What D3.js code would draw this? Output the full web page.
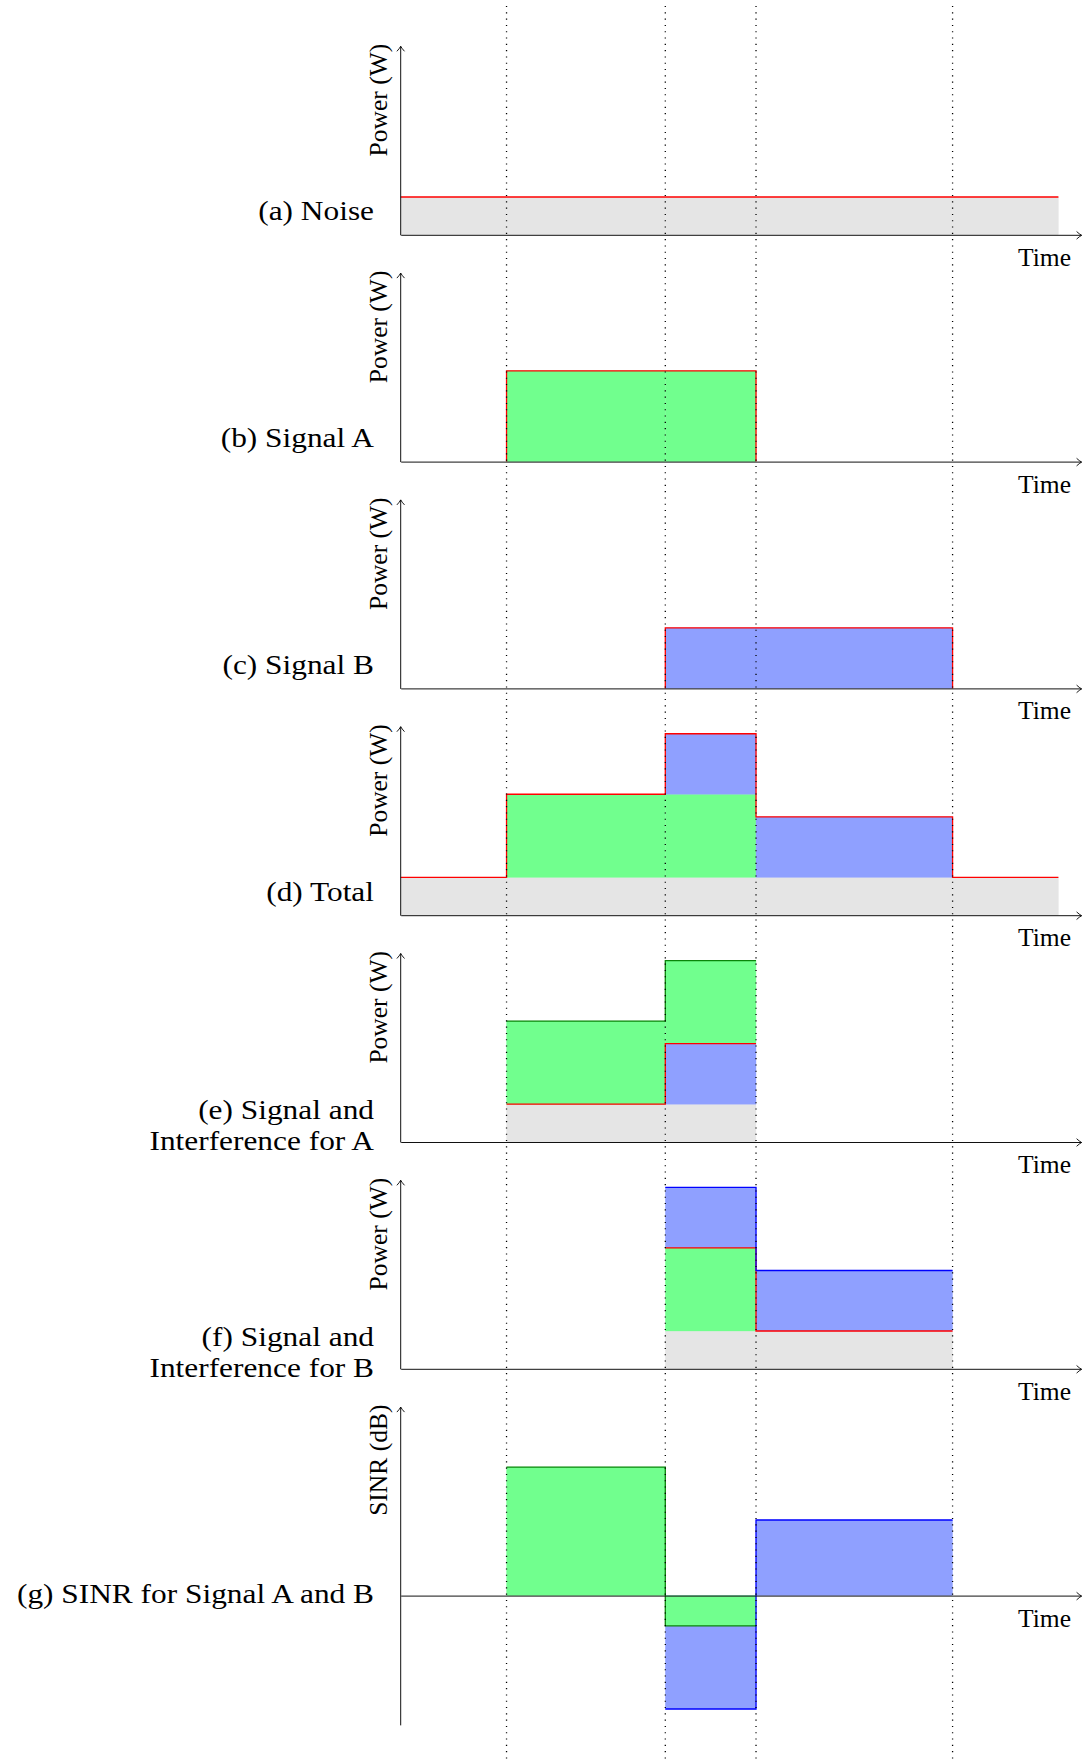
<!DOCTYPE html>
<html><head><meta charset="utf-8">
<script src="https://cdn.jsdelivr.net/npm/d3@7"></script>
<style>
html,body{margin:0;padding:0;background:#fff;}
svg{display:block;}
text{font-family:"Liberation Serif","Times New Roman",serif;fill:#000;}
</style></head><body>
<svg id="chart" width="1082" height="1760"></svg>
<script>
// ---------------- data ----------------
const timeEdges  = [0, 2.8, 7, 9.4, 14.6, 17.4];   // segment boundaries
const eventTimes = [2.8, 7, 9.4, 14.6];             // dotted guide lines
const timeAxisMax  = 18;
const powerAxisMax = 5;
const sinrAxisMin  = -3.42;

const panelLabels = [
  ["(a) Noise"],
  ["(b) Signal A"],
  ["(c) Signal B"],
  ["(d) Total"],
  ["(e) Signal and", "Interference for A"],
  ["(f) Signal and", "Interference for B"],
  ["(g) SINR for Signal A and B"]
];
const yAxisTitles = ["Power (W)", "Power (W)", "Power (W)", "Power (W)", "Power (W)", "Power (W)", "SINR (dB)"];
const xAxisTitle = "Time";

// levels per time segment (null = nothing in that segment)
const noise        = [1.0, 1.0, 1.0, 1.0, 1.0];
const signalAOnly  = [null, 2.4, 2.4, null, null];
const signalBOnly  = [null, null, 1.6, 1.6, null];
const totalNoise   = [1.0, 1.0, 1.0, 1.0, 1.0];
const totalA       = [null, 2.2, 2.2, null, null];
const totalB       = [null, null, 1.6, 1.6, null];
const noiseForA    = [null, 1.0, 1.0, null, null];
const interfForA   = [null, null, 1.6, null, null];
const signalForA   = [null, 2.2, 2.2, null, null];
const noiseForB    = [null, null, 1.0, 1.0, null];
const interfForB   = [null, null, 2.2, null, null];
const signalForB   = [null, null, 1.6, 1.6, null];
const sinrA        = [null, 3.4, -0.8, null, null];
const sinrB        = [null, null, -3.0, 2.0, null];

// ---------------- styles / layout ----------------
const GRAY = "#e5e5e5", GREEN = "#71ff8e", BLUE = "#8fa0ff";
const RED = "#ff0000", DKGREEN = "#0a860a", BLUESTROKE = "#0000ff";
const U = 37.8, X0 = 400.7, BASE0 = 234.8, STEP = 226.8;

const panels = [
  {stacked:true, layers:[{v:noise, fill:GRAY}], outlines:[{upTo:0, color:RED}]},
  {stacked:true, layers:[{v:signalAOnly, fill:GREEN}], outlines:[{upTo:0, color:RED, closed:true}]},
  {stacked:true, layers:[{v:signalBOnly, fill:BLUE}], outlines:[{upTo:0, color:RED, closed:true}]},
  {stacked:true, layers:[{v:totalNoise, fill:GRAY},{v:totalA, fill:GREEN},{v:totalB, fill:BLUE}], outlines:[{upTo:2, color:RED}]},
  {stacked:true, layers:[{v:noiseForA, fill:GRAY},{v:interfForA, fill:BLUE},{v:signalForA, fill:GREEN}], outlines:[{upTo:1, color:RED},{upTo:2, color:DKGREEN}]},
  {stacked:true, layers:[{v:noiseForB, fill:GRAY},{v:interfForB, fill:GREEN},{v:signalForB, fill:BLUE}], outlines:[{upTo:1, color:RED},{upTo:2, color:BLUESTROKE}]},
  {stacked:false, layers:[{v:sinrB, fill:BLUE},{v:sinrA, fill:GREEN}], outlines:[{layer:0, color:BLUESTROKE},{layer:1, color:DKGREEN}]}
];

const svg = d3.select("#chart");
const defs = svg.append("defs");
defs.append("marker").attr("id","arr").attr("viewBox","-7 -5 8 10")
  .attr("refX",0).attr("refY",0).attr("markerUnits","userSpaceOnUse")
  .attr("markerWidth",8).attr("markerHeight",10).attr("orient","auto")
  .append("path").attr("d","M-5,-3.8 Q-2.2,-1.2 0,0 Q-2.2,1.2 -5,3.8")
  .attr("fill","none").attr("stroke","#000").attr("stroke-width",0.9);

const x = d3.scaleLinear().domain([0, timeAxisMax]).range([X0, X0 + timeAxisMax * U]);
const nSeg = timeEdges.length - 1;

panels.forEach((p, i) => {
  const base = BASE0 + i * STEP;
  const dom = p.stacked ? [0, powerAxisMax] : [sinrAxisMin, powerAxisMax];
  const y = d3.scaleLinear().domain(dom).range([base - dom[0] * U, base - dom[1] * U]);
  const g = svg.append("g");

  // compute rectangles
  const rects = [];
  const cum = []; // cumulative tops per layer
  for (let s = 0; s < nSeg; s++) {
    let acc = 0, any = false;
    p.layers.forEach((L, k) => {
      const v = L.v[s];
      if (v != null) {
        const b = p.stacked ? acc : 0;
        rects.push({x0: timeEdges[s], x1: timeEdges[s+1], y0: b, y1: b + v, fill: L.fill});
        if (p.stacked) acc += v;
        any = true;
      }
      cum[k] = cum[k] || [];
      cum[k][s] = p.stacked ? (any ? acc : null) : v;
    });
  }
  g.selectAll("rect").data(rects).join("rect")
    .attr("x", d => x(d.x0)).attr("width", d => x(d.x1) - x(d.x0))
    .attr("y", d => y(Math.max(d.y0, d.y1)))
    .attr("height", d => Math.abs(y(d.y0) - y(d.y1)))
    .attr("fill", d => d.fill).attr("stroke", d => d.fill).attr("stroke-width", 0.3);

  // outlines
  const line = d3.line().x(d => x(d[0])).y(d => y(d[1])).curve(d3.curveStepAfter);
  p.outlines.forEach(o => {
    const vals = p.stacked ? cum[o.upTo] : p.layers[o.layer].v;
    let s = 0;
    while (s < nSeg) {
      if (vals[s] == null) { s++; continue; }
      const pts = [];
      const start = s;
      while (s < nSeg && vals[s] != null) { pts.push([timeEdges[s], vals[s]]); s++; }
      pts.push([timeEdges[s], vals[s-1]]);
      if (o.closed) { pts.unshift([timeEdges[start], 0]); pts.push([timeEdges[s], 0]); }
      g.append("path").attr("d", line(pts)).attr("fill","none")
        .attr("stroke", o.color).attr("stroke-width", 1.3);
    }
  });

  // axes
  const xAxis = g.append("g").attr("transform", `translate(0,${y(0)})`)
    .call(d3.axisBottom(x).tickValues([]).tickSizeOuter(0));
  xAxis.select(".domain").attr("stroke","#111").attr("stroke-width",1).attr("marker-end","url(#arr)");
  const yAxis = g.append("g").attr("transform", `translate(${X0 - 0.5},0)`)
    .call(d3.axisLeft(y).tickValues([]).tickSizeOuter(0));
  yAxis.select(".domain").attr("stroke","#111").attr("stroke-width",1).attr("marker-end","url(#arr)");

  // axis titles
  g.append("text").attr("transform", `translate(${X0 - 14},${y(dom[1]) - 2}) rotate(-90)`)
    .attr("text-anchor","end").attr("font-size", 25.5).text(yAxisTitles[i]);
  g.append("text").attr("x", 1071).attr("y", y(0) + 31)
    .attr("text-anchor","end").attr("font-size", 25.5).text(xAxisTitle);

  // panel label
  const lines = panelLabels[i];
  let firstBase;
  if (!p.stacked) firstBase = y(0) + 7;
  else if (lines.length === 1) firstBase = y(0) - 14.7;
  else firstBase = y(0) - 23;
  const t = g.append("text").attr("text-anchor","end").attr("font-size", 28)
    .attr("transform", `translate(374,${firstBase}) scale(1.12,1)`);
  lines.forEach((s, j) => t.append("tspan").attr("x", 0).attr("y", j * 31).text(s));
});

// dotted guide lines
svg.append("g").selectAll("line").data(eventTimes).join("line")
  .attr("x1", d => x(d)).attr("x2", d => x(d))
  .attr("y1", 6).attr("y2", 1760)
  .attr("stroke","#000").attr("stroke-width",1.3).attr("stroke-dasharray","1.1 5.2");
</script>
</body></html>
